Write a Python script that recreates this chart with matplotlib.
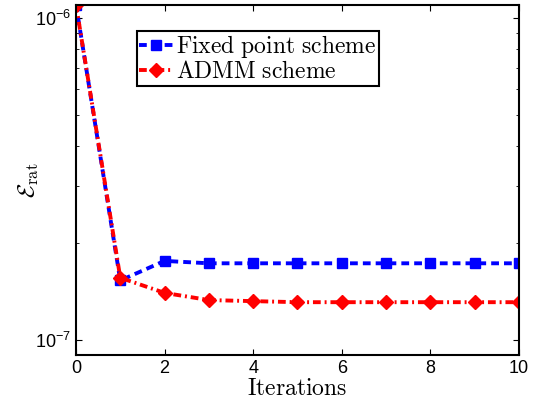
import matplotlib
matplotlib.use("Agg")
import matplotlib.pyplot as plt

plt.rcParams['font.family'] = ['Liberation Sans', 'DejaVu Sans']
plt.rcParams['mathtext.fontset'] = 'cm'

# data
iters = [0, 1, 2, 3, 4, 5, 6, 7, 8, 9, 10]
fixed_point = [1.1e-6, 1.53e-7, 1.76e-7, 1.73e-7, 1.73e-7, 1.73e-7,
               1.73e-7, 1.73e-7, 1.73e-7, 1.73e-7, 1.73e-7]
admm = [1.1e-6, 1.56e-7, 1.40e-7, 1.33e-7, 1.32e-7, 1.31e-7,
        1.31e-7, 1.31e-7, 1.31e-7, 1.31e-7, 1.31e-7]

fig = plt.figure(figsize=(5.37, 4.0), dpi=100)
ax = fig.add_axes([0.1415, 0.1125, 0.825, 0.875])

ax.plot(iters, fixed_point, marker='s', color='blue', lw=2.8, ms=6.5,
        dashes=(2, 1.3), label=r'$\mathrm{Fixed\ point\ scheme}$')
ax.plot(iters, admm, marker='D', color='red', lw=2.8, ms=7.5,
        dashes=(2, 1, 0.5, 1), label=r'$\mathrm{ADMM\ scheme}$')

ax.set_yscale('log')
ax.set_xlim(0, 10)
ax.set_ylim(0.898e-7, 1.097e-6)
ax.set_xticks([0, 2, 4, 6, 8, 10])

ax.set_xlabel(r'$\mathrm{Iterations}$', fontsize=17, labelpad=1)
ax.set_ylabel(r'$\mathcal{E}_{\mathrm{rat}}$', fontsize=17, labelpad=-4)

ax.tick_params(which='both', direction='in', top=True, right=True, labelsize=13)
ax.tick_params(which='major', length=4)
ax.tick_params(which='minor', length=2.5)
for s in ax.spines.values():
    s.set_linewidth(1.5)

leg = ax.legend(loc='upper left', bbox_to_anchor=(0.138, 0.926), fontsize=17,
                fancybox=False, framealpha=1, edgecolor='black',
                handlelength=1.4, borderpad=0.1, labelspacing=0.05,
                handletextpad=0.15, borderaxespad=0)
leg.get_frame().set_linewidth(1.5)

fig.savefig('out.png', dpi=100)
